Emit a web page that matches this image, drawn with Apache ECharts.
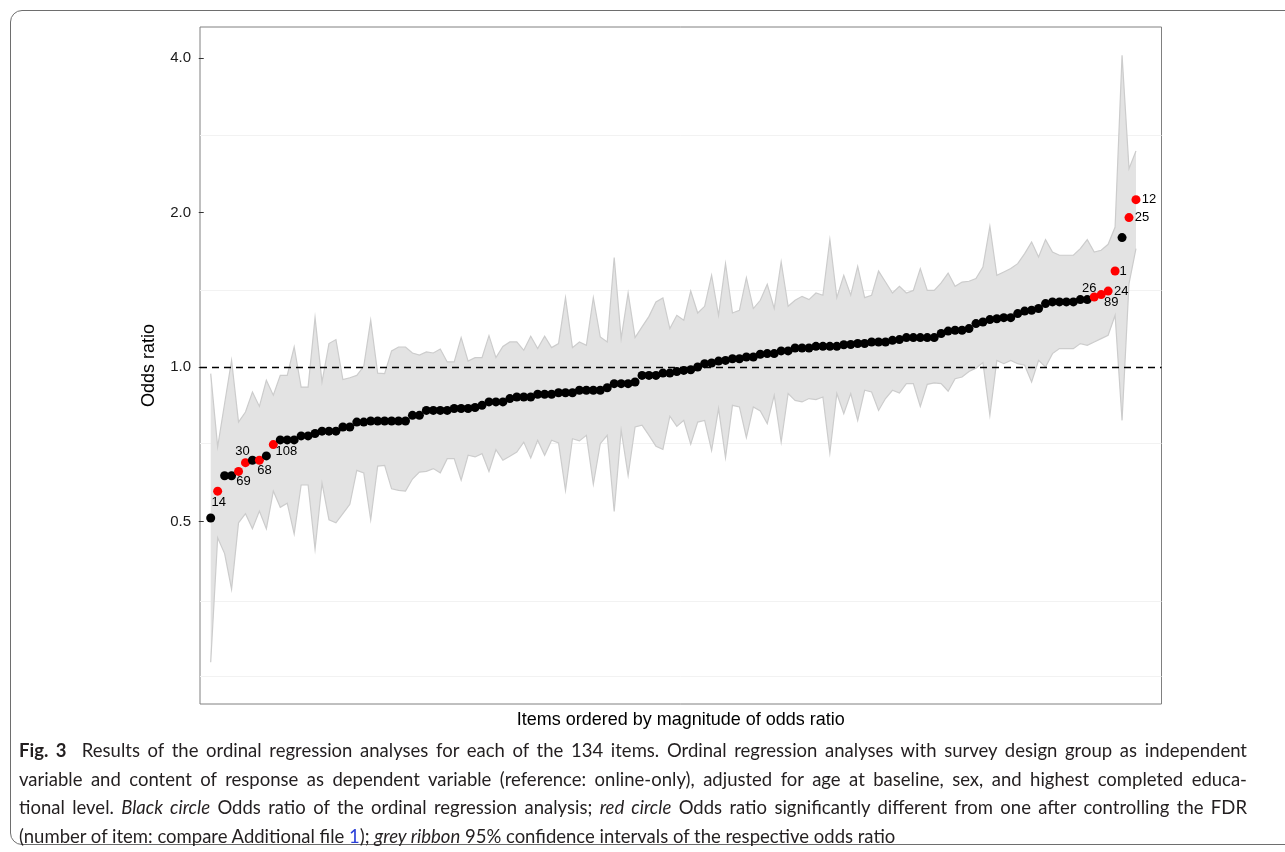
<!DOCTYPE html>
<html>
<head>
<meta charset="utf-8">
<title>Fig. 3 Odds ratios</title>
<script src="https://cdn.jsdelivr.net/npm/echarts@6/dist/echarts.min.js"></script>
<style>
  html, body { margin: 0; padding: 0; background: #fff; }
  #wrap { position: relative; width: 1285px; height: 852px; overflow: hidden; }
  #chart { position: absolute; left: 0; top: 0; width: 1285px; height: 852px; }
  #frame {
    position: absolute; left: 10px; top: 10px; width: 1300px; height: 835px;
    border: 1.3px solid #6e6e6e; border-radius: 12px; box-sizing: border-box;
    pointer-events: none;
  }
  #caption {
    position: absolute; left: 19px; top: 736px; width: 1228px;
    font-family: Lato, "Noto Sans", sans-serif; font-size: 18.5px;
    line-height: 28.5px; color: #231f20;
  }
  #caption .ln { text-align: justify; text-align-last: justify; }
  #caption .ln.last { text-align-last: left; }
  #caption .lnk { color: #2a3fd8; }
</style>
</head>
<body>
<div id="wrap">
  <div id="chart"></div>
  <div id="frame"></div>
  <div id="caption">
    <div class="ln"><b>Fig. 3</b>&nbsp; Results of the ordinal regression analyses for each of the 134 items. Ordinal regression analyses with survey design group as independent</div>
    <div class="ln">variable and content of response as dependent variable (reference: online-only), adjusted for age at baseline, sex, and highest completed educa-</div>
    <div class="ln">tional level. <i>Black circle</i> Odds ratio of the ordinal regression analysis; <i>red circle</i> Odds ratio significantly different from one after controlling the FDR</div>
    <div class="ln last">(number of item: compare Additional file <span class="lnk">1</span>); <i>grey ribbon</i> 95% confidence intervals of the respective odds ratio</div>
  </div>
</div>
<script>
// odds ratio of each item, ordered by magnitude (items 1..134 on the x axis)
const oddsRatio = [
  0.508, 0.573, 0.614, 0.614, 0.626, 0.651, 0.658, 0.658, 0.671, 0.706,
  0.721, 0.721, 0.721, 0.734, 0.734, 0.742, 0.750, 0.750, 0.750, 0.764,
  0.764, 0.781, 0.781, 0.785, 0.785, 0.785, 0.785, 0.785, 0.785, 0.805,
  0.805, 0.823, 0.823, 0.823, 0.823, 0.830, 0.830, 0.830, 0.834, 0.842,
  0.855, 0.855, 0.855, 0.868, 0.874, 0.874, 0.874, 0.885, 0.885, 0.885,
  0.891, 0.891, 0.891, 0.901, 0.901, 0.901, 0.901, 0.911, 0.928, 0.928,
  0.928, 0.935, 0.963, 0.963, 0.963, 0.973, 0.973, 0.980, 0.985, 0.988,
  1.000, 1.015, 1.018, 1.027, 1.030, 1.038, 1.038, 1.046, 1.046, 1.059,
  1.062, 1.062, 1.075, 1.075, 1.089, 1.089, 1.089, 1.097, 1.097, 1.097,
  1.097, 1.105, 1.106, 1.111, 1.111, 1.119, 1.119, 1.119, 1.127, 1.131,
  1.141, 1.141, 1.141, 1.141, 1.141, 1.162, 1.175, 1.179, 1.179, 1.188,
  1.215, 1.224, 1.237, 1.242, 1.248, 1.248, 1.271, 1.285, 1.290, 1.300,
  1.329, 1.339, 1.339, 1.339, 1.339, 1.353, 1.353, 1.369, 1.384, 1.406,
  1.538, 1.787, 1.955, 2.119
];
// 95% CI bounds
const ciUpper = [
  0.971, 0.699, 0.849, 1.030, 0.781, 0.817, 0.894, 0.838, 0.942, 0.881,
  0.963, 0.963, 1.094, 0.914, 0.914, 1.248, 0.935, 1.111, 1.131, 0.945,
  0.953, 0.963, 1.003, 1.233, 0.973, 0.971, 1.075, 1.094, 1.094, 1.065,
  1.055, 1.070, 1.065, 1.084, 1.023, 1.023, 1.141, 1.027, 1.043, 1.043,
  1.151, 1.043, 1.097, 1.119, 1.119, 1.078, 1.148, 1.086, 1.148, 1.091,
  1.111, 1.365, 1.091, 1.119, 1.102, 1.365, 1.144, 1.119, 1.634, 1.136,
  1.394, 1.141, 1.197, 1.255, 1.339, 1.363, 1.188, 1.261, 1.233, 1.406,
  1.274, 1.313, 1.509, 1.261, 1.590, 1.274, 1.290, 1.493, 1.300, 1.349,
  1.449, 1.300, 1.602, 1.313, 1.349, 1.373, 1.353, 1.394, 1.380, 1.771,
  1.365, 1.509, 1.380, 1.571, 1.365, 1.380, 1.538, 1.464, 1.394, 1.436,
  1.394, 1.410, 1.555, 1.410, 1.410, 1.458, 1.524, 1.436, 1.464, 1.469,
  1.487, 1.566, 1.880, 1.509, 1.532, 1.555, 1.590, 1.663, 1.752, 1.638,
  1.771, 1.675, 1.651, 1.651, 1.651, 1.701, 1.771, 1.675, 1.688, 1.734,
  1.874, 4.048, 2.435, 2.636
];
const ciLower = [
  0.266, 0.465, 0.433, 0.369, 0.497, 0.518, 0.484, 0.524, 0.484, 0.573,
  0.533, 0.543, 0.473, 0.589, 0.589, 0.442, 0.594, 0.504, 0.497, 0.518,
  0.540, 0.629, 0.622, 0.504, 0.641, 0.643, 0.579, 0.575, 0.573, 0.605,
  0.624, 0.626, 0.634, 0.622, 0.663, 0.663, 0.602, 0.673, 0.668, 0.678,
  0.626, 0.690, 0.658, 0.670, 0.683, 0.714, 0.665, 0.720, 0.673, 0.720,
  0.711, 0.575, 0.725, 0.718, 0.736, 0.591, 0.709, 0.736, 0.523, 0.753,
  0.615, 0.764, 0.770, 0.736, 0.701, 0.691, 0.802, 0.766, 0.787, 0.707,
  0.781, 0.787, 0.688, 0.830, 0.666, 0.842, 0.836, 0.729, 0.836, 0.821,
  0.776, 0.881, 0.714, 0.888, 0.861, 0.855, 0.868, 0.864, 0.874, 0.680,
  0.888, 0.811, 0.888, 0.787, 0.901, 0.894, 0.823, 0.868, 0.901, 0.890,
  0.928, 0.928, 0.838, 0.925, 0.931, 0.928, 0.897, 0.949, 0.956, 0.980,
  0.995, 1.020, 0.805, 1.030, 1.015, 1.030, 1.015, 1.008, 0.935, 1.030,
  1.000, 1.062, 1.086, 1.086, 1.086, 1.111, 1.102, 1.119, 1.136, 1.153,
  1.261, 0.787, 1.454, 1.701
];
// positions (1-based) of the FDR-significant items and their item numbers
const sigPositions = [2, 5, 6, 8, 10, 128, 129, 130, 131, 133, 134];
const sigLabels = ['14', '69', '30', '68', '108', '26', '89', '24', '1', '25', '12'];
const yTicks = [0.5, 1, 2, 4];
const gridValues = [0.25, 0.354, 0.707, 1.414, 2.83];
const refValue = 1;

// label nudges, px (like ggrepel placement)
const labelNudge = {
  '14': [1, 11], '69': [5, 10], '30': [-3, -11], '68': [5, 10], '108': [13, 7],
  '26': [-5, -9], '89': [10, 8], '24': [13, 0], '1': [8, 0], '25': [13, 0], '12': [13, 0]
};

const font = '"Liberation Sans", Arial, sans-serif';
const chart = echarts.init(document.getElementById('chart'));

const points = oddsRatio.map((v, i) => {
  const pos = i + 1;
  const k = sigPositions.indexOf(pos);
  if (k < 0) return [pos, v];
  const lab = sigLabels[k];
  return {
    value: [pos, v],
    itemStyle: { color: '#ff0000' },
    label: { show: true, formatter: lab, position: 'inside', offset: labelNudge[lab] }
  };
});

chart.setOption({
  animation: false,
  grid: {
    left: 200, top: 27, width: 961.5, height: 677,
    show: true, borderColor: '#808080', borderWidth: 1, backgroundColor: '#fff'
  },
  xAxis: {
    type: 'value', min: -0.538, max: 137.67,
    axisLine: { show: false }, axisTick: { show: false },
    axisLabel: { show: false }, splitLine: { show: false },
    name: 'Items ordered by magnitude of odds ratio',
    nameLocation: 'middle', nameGap: 7,
    nameTextStyle: { fontSize: 18, color: '#000', fontFamily: font, verticalAlign: 'top' }
  },
  yAxis: {
    type: 'log', logBase: 2, min: 0.2205, max: 4.597,
    name: 'Odds ratio', nameLocation: 'middle', nameGap: 42,
    nameTextStyle: { fontSize: 18, color: '#000', fontFamily: font },
    axisLine: { show: false },
    axisTick: { show: true, customValues: yTicks, length: 5, lineStyle: { color: '#333', width: 1 } },
    axisLabel: {
      customValues: yTicks, margin: 9, fontSize: 15, color: '#1a1a1a', fontFamily: font,
      formatter: v => v.toFixed(1)
    },
    splitLine: { show: false }
  },
  series: [
    {
      // grey ribbon of the 95% CIs
      type: 'custom', z: 2, silent: true,
      data: oddsRatio.map((v, i) => [i + 1, v]),
      encode: { x: 0, y: 1 },
      renderItem(params, api) {
        if (params.dataIndex !== 0) return;
        const up = ciUpper.map((v, i) => api.coord([i + 1, v]));
        const lo = ciLower.map((v, i) => api.coord([i + 1, v]));
        return {
          type: 'group',
          children: [
            { type: 'polygon', shape: { points: up.concat(lo.slice().reverse()) }, style: { fill: '#e3e3e3' } },
            { type: 'polyline', shape: { points: up }, style: { stroke: '#cccccc', lineWidth: 1.2, fill: null } },
            { type: 'polyline', shape: { points: lo }, style: { stroke: '#cccccc', lineWidth: 1.2, fill: null } }
          ]
        };
      },
      markLine: {
        z: 1, silent: true, symbol: 'none', label: { show: false },
        lineStyle: { color: '#f2f2f2', type: 'solid', width: 1 },
        data: gridValues.map(v => ({ yAxis: v }))
      }
    },
    {
      type: 'scatter', z: 4, symbolSize: 9,
      itemStyle: { color: '#000', opacity: 1 },
      label: { color: '#000', fontSize: 13, fontFamily: font },
      data: points,
      markLine: {
        z: 3, silent: true, symbol: 'none', label: { show: false },
        lineStyle: { color: '#000', type: [7, 5], width: 1.3 },
        data: [{ yAxis: refValue }]
      }
    }
  ]
});
</script>
</body>
</html>
